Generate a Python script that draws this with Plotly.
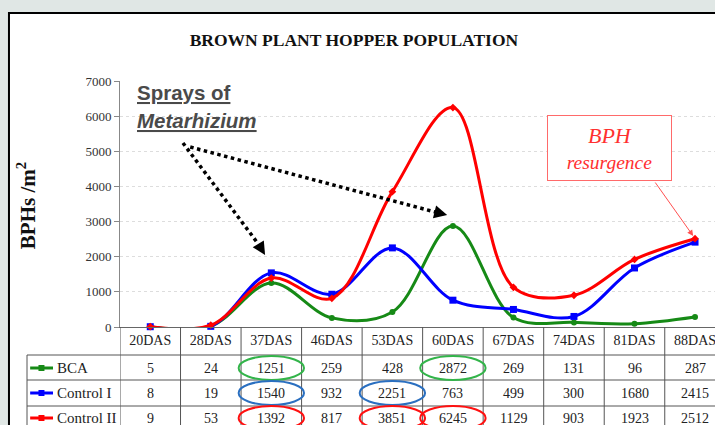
import plotly.graph_objects as go

days = ['20DAS', '28DAS', '37DAS', '46DAS', '53DAS', '60DAS', '67DAS', '74DAS', '81DAS', '88DAS']
bca = [5, 24, 1251, 259, 428, 2872, 269, 131, 96, 287]
control_1 = [8, 19, 1540, 932, 2251, 763, 499, 300, 1680, 2415]
control_2 = [9, 53, 1392, 817, 3851, 6245, 1129, 903, 1923, 2512]

series = [
    ('BCA', bca, '#168a16', 'circle', 6),
    ('Control I', control_1, '#0000ff', 'square', 7),
    ('Control II', control_2, '#ff0000', 'diamond', 6),
]

# values circled in the table: (row, column, colour)
circled = [
    (0, 2, '#33b44a'), (0, 5, '#33b44a'),
    (1, 2, '#2a6fc0'), (1, 4, '#2a6fc0'),
    (2, 2, '#ff1010'), (2, 4, '#ff1010'), (2, 5, '#ff1010'),
]

serif = 'Liberation Serif'
grid_col = '#555555'

fig = go.Figure()
for name, vals, col, sym, sz in series:
    fig.add_trace(go.Scatter(
        x=days, y=vals, name=name, mode='lines+markers',
        line=dict(color=col, width=3, shape='spline', smoothing=1),
        marker=dict(color=col, symbol=sym, size=sz),
        cliponaxis=False, showlegend=False,
    ))

shapes = []
annotations = []

# white panel with black border
shapes.append(dict(type='rect', xref='paper', yref='paper', x0=-0.1866, x1=1.2,
                   y0=-0.6, y1=1.2764, fillcolor='white',
                   line=dict(color='black', width=2), layer='below'))

# table grid
row_tops = [-28, -53, -79]
row_mid = [-41, -66, -91]
for i in range(len(days) + 1):
    shapes.append(dict(type='line', xref='x', x0=i - 0.5, x1=i - 0.5,
                       yref='paper', ysizemode='pixel', yanchor=0, y0=0, y1=-120,
                       line=dict(color=grid_col, width=1)))
for yt in row_tops:
    shapes.append(dict(type='line', xref='paper', x0=-0.1563, x1=1.0,
                       yref='paper', ysizemode='pixel', yanchor=0, y0=yt, y1=yt,
                       line=dict(color=grid_col, width=1)))
shapes.append(dict(type='line', xref='paper', x0=-0.1563, x1=-0.1563,
                   yref='paper', ysizemode='pixel', yanchor=0, y0=-28, y1=-120,
                   line=dict(color=grid_col, width=1)))

# row labels with legend glyphs, and cell values
for r, (name, vals, col, sym, sz) in enumerate(series):
    ym = row_mid[r]
    shapes.append(dict(type='line', xref='paper', x0=-0.151, x1=-0.1126,
                       yref='paper', ysizemode='pixel', yanchor=0, y0=ym, y1=ym,
                       line=dict(color=col, width=3)))
    shapes.append(dict(type='rect', xref='paper', xsizemode='pixel', xanchor=-0.132,
                       x0=-3, x1=3, yref='paper', ysizemode='pixel', yanchor=0,
                       y0=ym - 3, y1=ym + 3, fillcolor=col, line=dict(width=0)))
    annotations.append(dict(text=name, xref='paper', x=-0.109, xanchor='left',
                            yref='paper', y=0, yshift=ym, yanchor='middle',
                            showarrow=False,
                            font=dict(family=serif, size=15, color='#222')))
    for d, v in zip(days, vals):
        annotations.append(dict(text=str(v), xref='x', x=d, xanchor='center',
                                yref='paper', y=0, yshift=ym, yanchor='middle',
                                showarrow=False,
                                font=dict(family=serif, size=14, color='#222')))

for r, c, col in circled:
    ym = row_mid[r]
    shapes.append(dict(type='circle', xref='x', x0=c - 0.54, x1=c + 0.54,
                       yref='paper', ysizemode='pixel', yanchor=0,
                       y0=ym - 12, y1=ym + 12, line=dict(color=col, width=2)))

# "Sprays of Metarhizium" note with dotted arrows
annotations.append(dict(text='<b><u>Sprays of</u></b>', xref='paper', x=0.025,
                        xanchor='left', yref='paper', y=0.955, yanchor='middle',
                        showarrow=False,
                        font=dict(family='Liberation Sans', size=20.5, color='#4a4a4a')))
annotations.append(dict(text='<b><i><u>Metarhizium</u></i></b>', xref='paper', x=0.025,
                        xanchor='left', yref='paper', y=0.841, yanchor='middle',
                        showarrow=False,
                        font=dict(family='Liberation Sans', size=20.5, color='#4a4a4a')))
for (sx, sy), (ex, ey), (tx, ty) in [((0.54, 5236), (1.785, 2362), (1.897, 2049)),
                                     ((0.66, 5122), (4.707, 3272), (4.905, 3187))]:
    shapes.append(dict(type='line', xref='x', yref='y', x0=sx, y0=sy, x1=ex, y1=ey,
                       line=dict(color='black', width=3.5, dash='dot')))
    annotations.append(dict(text='', xref='x', yref='y', x=tx, y=ty,
                            axref='x', ayref='y', ax=ex, ay=ey, showarrow=True,
                            arrowhead=2, arrowsize=1.3, arrowwidth=2, arrowcolor='black'))

# "BPH resurgence" box
annotations.append(dict(text='<i><span style="font-size:22px">BPH</span><br>resurgence</i>',
                        xref='paper', x=0.8227, xanchor='center',
                        yref='paper', y=0.7276, yanchor='middle',
                        width=121, height=62, showarrow=False,
                        bordercolor='#ff6a6a', borderwidth=1, bgcolor='white',
                        font=dict(family=serif, size=19.5, color='#ff3030')))
annotations.append(dict(text='', xref='x', yref='y', x=8.97, y=2589, ax=-39, ay=-55,
                        showarrow=True, arrowhead=2, arrowsize=1.2, arrowwidth=1,
                        arrowcolor='#ff5050'))

# y-axis title
annotations.append(dict(text='<b>BPHs /m<sup>2</sup></b>', xref='paper', x=-0.156,
                        xanchor='center', yref='paper', y=0.492, yanchor='middle',
                        textangle=-90, showarrow=False,
                        font=dict(family=serif, size=21, color='#111')))

fig.update_layout(
    width=715, height=425,
    margin=dict(l=120, r=0, t=81, b=98),
    paper_bgcolor='#e0e7e5', plot_bgcolor='white',
    title=dict(text='<b>BROWN PLANT HOPPER POPULATION</b>', x=0.495, xanchor='center',
               y=0.906, yanchor='middle',
               font=dict(family=serif, size=17.5, color='#111')),
    xaxis=dict(type='category', range=[-0.5, 9.33], showgrid=False, ticks='',
               showline=True, linecolor='#666', linewidth=1,
               tickfont=dict(family=serif, size=14, color='#222')),
    yaxis=dict(range=[0, 7000], dtick=1000, showgrid=True, gridcolor='#dddddd',
               griddash='dot', zeroline=False, showline=True, linecolor='#888',
               ticks='outside', ticklen=5, tickcolor='#888',
               tickfont=dict(family=serif, size=13, color='#333')),
    shapes=shapes, annotations=annotations,
)

# drop the default page margin so the figure fills the window
fig.write_html('out.html', config={'displayModeBar': False},
               post_script="document.body.style.margin='0';")
